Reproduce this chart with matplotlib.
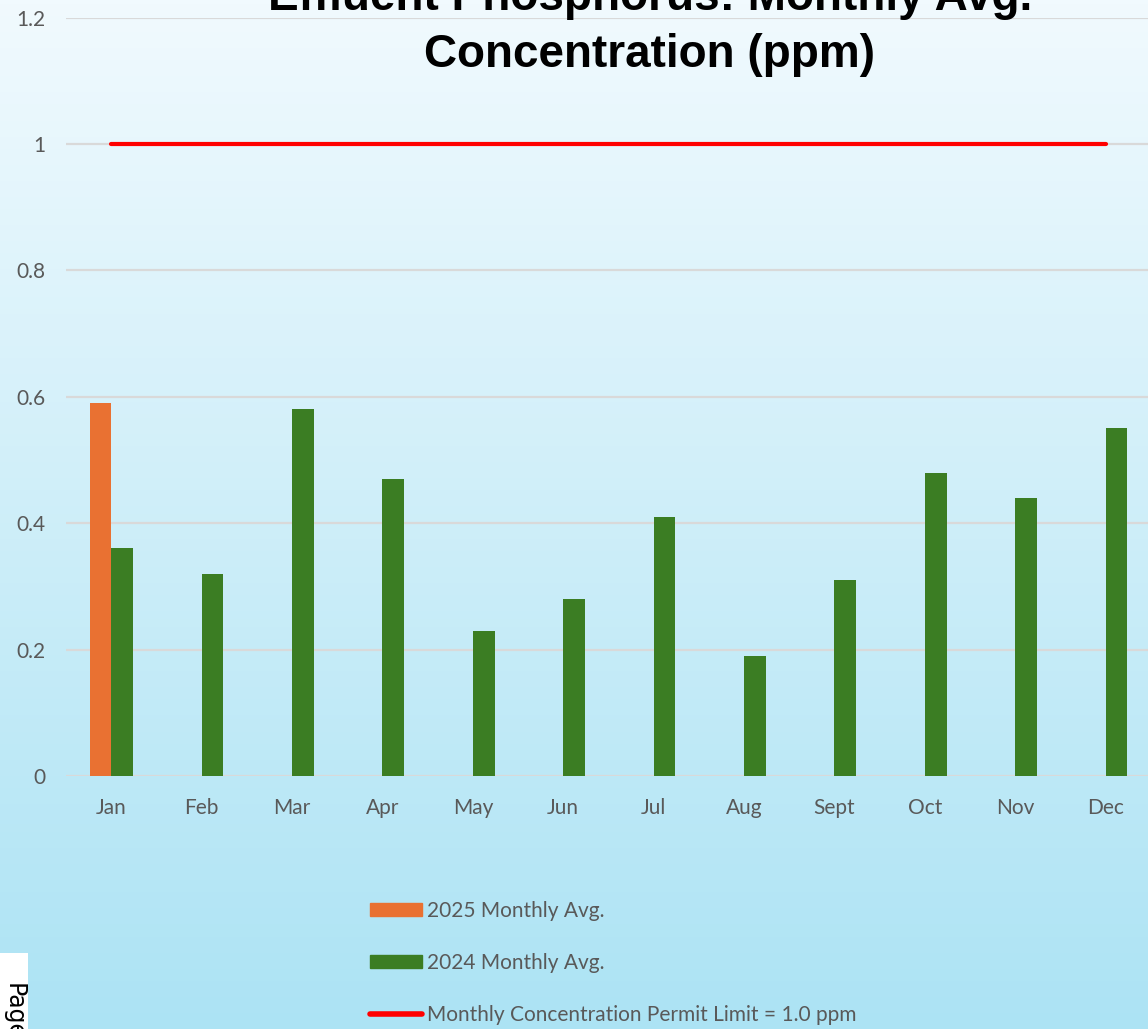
import numpy as np
import matplotlib
matplotlib.use("Agg")
import matplotlib.pyplot as plt
from matplotlib.patches import Patch, Rectangle
from matplotlib.lines import Line2D

months = ["Jan", "Feb", "Mar", "Apr", "May", "Jun", "Jul", "Aug", "Sept", "Oct", "Nov", "Dec"]
avg_2025 = [0.59]  # only January so far
avg_2024 = [0.36, 0.32, 0.58, 0.47, 0.23, 0.28, 0.41, 0.19, 0.31, 0.48, 0.44, 0.55]
permit_limit = [1.0] * 12
y_ticks = [0, 0.2, 0.4, 0.6, 0.8, 1, 1.2]
y_tick_labels = ["0", "0.2", "0.4", "0.6", "0.8", "1", "1.2"]

plt.rcParams['font.family'] = ['Lato', 'DejaVu Sans']
grey = "#595959"

fig = plt.figure(figsize=(11.48, 10.29), dpi=100)

# background gradient, light at top to sky blue at bottom
bg = fig.add_axes([0, 0, 1, 1], zorder=-10)
top = np.array([241, 250, 254]) / 255
bot = np.array([172, 227, 244]) / 255
t = np.linspace(0, 1, 256)[:, None]
grad = top * (1 - t[..., None]) + bot * t[..., None]
grad = np.repeat(grad, 2, axis=1)
bg.imshow(grad, aspect='auto', extent=[0, 1, 0, 1])
bg.set_axis_off()

ax = fig.add_axes([0.0575, 0.2459, 0.945, 0.737])
ax.set_facecolor('none')
x = np.arange(len(months))
w = 0.24
ax.bar(x[:len(avg_2025)] - w / 2, avg_2025, width=w, color="#E97132", zorder=3)
ax.bar(x + w / 2, avg_2024, width=w, color="#3B7D23", zorder=3)
ax.plot(x, permit_limit, color="#FF0000", lw=3, solid_capstyle='round', zorder=4)

ax.set_xlim(-0.5, 11.5)
ax.set_ylim(0, 1.2)
ax.set_yticks(y_ticks)
ax.set_yticklabels(y_tick_labels)
ax.set_xticks(x)
ax.set_xticklabels(months)
ax.tick_params(length=0, labelsize=15, colors=grey)
ax.tick_params(axis='x', pad=16)
ax.tick_params(axis='y', pad=15)
ax.grid(axis='y', color="#D9D9D9", lw=1.6, zorder=0)
for s in ax.spines.values():
    s.set_visible(False)

# title, top line runs off the page like in the original
tfont = ['Liberation Sans', 'DejaVu Sans']
fig.text(0.566, 0.9903, "Effluent Phosphorus: Monthly Avg.", ha='center', va='baseline',
         fontsize=33, fontweight='bold', family=tfont)
fig.text(0.566, 0.9349, "Concentration (ppm)", ha='center', va='baseline',
         fontsize=33, fontweight='bold', family=tfont)

handles = [Patch(color="#E97132"), Patch(color="#3B7D23"),
           Line2D([0], [0], color="#FF0000", lw=4, solid_capstyle='round')]
labels = ["2025 Monthly Avg.", "2024 Monthly Avg.", "Monthly Concentration Permit Limit = 1.0 ppm"]
fig.legend(handles, labels, loc='upper left', bbox_to_anchor=(0.3133, 0.1348),
           frameon=False, borderpad=0, fontsize=15, labelcolor=grey,
           handlelength=2.5, handleheight=0.6, handletextpad=0.25, labelspacing=1.55)

# page label fragment in the corner
fig.patches.append(Rectangle((0, 0), 0.0245, 0.074, transform=fig.transFigure,
                             facecolor='white', edgecolor='none', zorder=5))
fig.text(0.001, 0.045, "Page", rotation=-90, fontsize=17, va='top', ha='left',
         family=['DejaVu Sans'], zorder=6)

fig.savefig("out.png", dpi=100)
